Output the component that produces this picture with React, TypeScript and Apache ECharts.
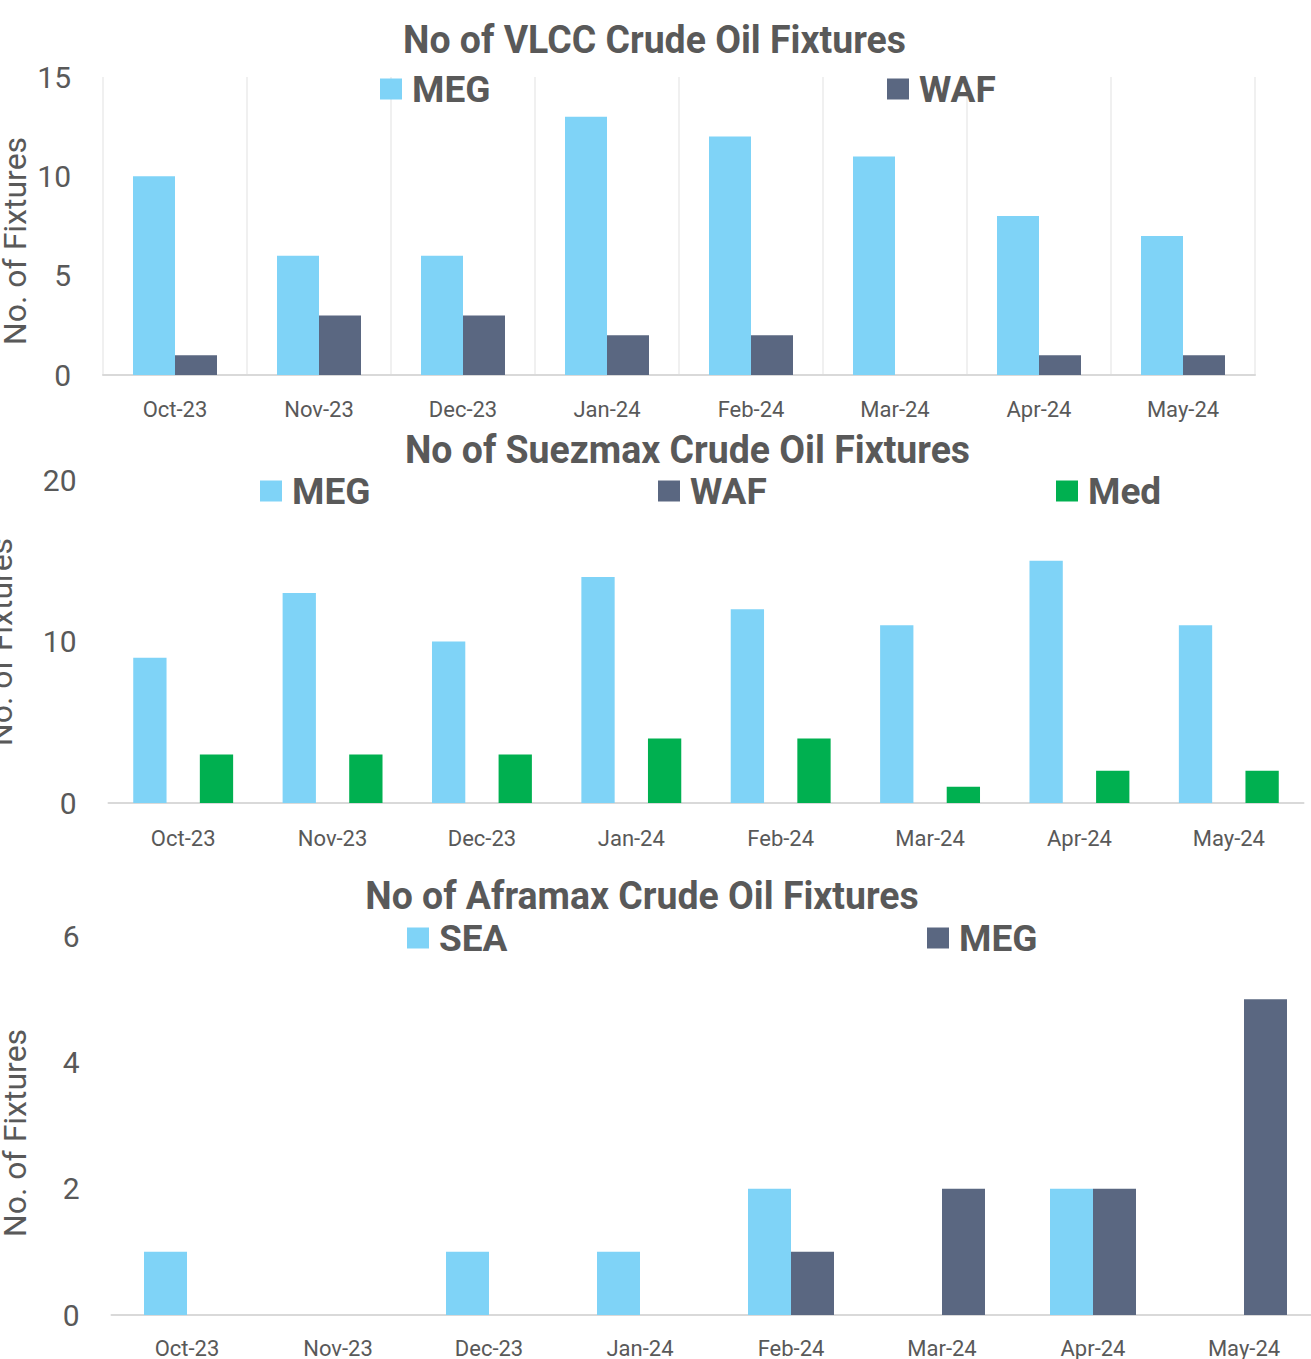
import React, { useEffect, useRef } from "react";
import * as echarts from "echarts";

const months = ["Oct-23", "Nov-23", "Dec-23", "Jan-24", "Feb-24", "Mar-24", "Apr-24", "May-24"];

const vlccMEG = [10, 6, 6, 13, 12, 11, 8, 7];
const vlccWAF = [1, 3, 3, 2, 2, 0, 1, 1];

const suezMEG = [9, 13, 10, 14, 12, 11, 15, 11];
const suezWAF = [0, 0, 0, 0, 0, 0, 0, 0];
const suezMed = [3, 3, 3, 4, 4, 1, 2, 2];

const afraSEA = [1, 0, 1, 1, 2, 0, 2, 0];
const afraMEG = [0, 0, 0, 0, 1, 2, 2, 5];

const titleVLCC = "No of VLCC Crude Oil Fixtures";
const titleSuez = "No of Suezmax Crude Oil Fixtures";
const titleAfra = "No of Aframax Crude Oil Fixtures";
const yName = "No. of Fixtures";

const LIGHT = "#7fd3f7";
const DARK = "#5a6781";
const GREEN = "#00b050";
const TEXT = "#595959";
const FONT = "Roboto, 'Noto Sans', sans-serif";

export default function App() {
  const ref = useRef<HTMLDivElement>(null);

  useEffect(() => {
    if (!ref.current) return;
    const chart = echarts.init(ref.current, undefined, { renderer: "svg" });

    const grids = [
      { left: 103, top: 77, width: 1152, height: 298 },
      { left: 108.5, top: 480, width: 1195, height: 323 },
      { left: 111.5, top: 936, width: 1208, height: 379 },
    ];
    const yCfg = [
      { max: 15, interval: 5 },
      { max: 20, interval: 10 },
      { max: 6, interval: 2 },
    ];
    const labelMargin = [23, 24, 22];

    const xAxis = grids.map((_, i) => ({
      type: "category",
      gridIndex: i,
      data: months,
      axisLine: { show: true, lineStyle: { color: "#d9d9d9", width: 2 } },
      axisTick: { show: false },
      axisLabel: { color: TEXT, fontSize: 22, fontFamily: FONT, margin: labelMargin[i], interval: 0 },
      splitLine: { show: i === 0, interval: 0, lineStyle: { color: "#ebebeb", width: 1.5 } },
    }));

    const yAxis = grids.map((_, i) => ({
      type: "value",
      gridIndex: i,
      min: 0,
      max: yCfg[i].max,
      interval: yCfg[i].interval,
      axisLine: { show: false },
      axisTick: { show: false },
      splitLine: { show: false },
      axisLabel: { color: TEXT, fontSize: 30, fontFamily: FONT, margin: 32 },
    }));

    const bar = (name: string, data: number[], color: string, idx: number, w: number) => ({
      name,
      type: "bar",
      xAxisIndex: idx,
      yAxisIndex: idx,
      data,
      barWidth: w,
      barGap: "0%",
      itemStyle: { color },
    });

    const series = [
      bar("VLCC|MEG", vlccMEG, LIGHT, 0, 42),
      bar("VLCC|WAF", vlccWAF, DARK, 0, 42),
      bar("Suez|MEG", suezMEG, LIGHT, 1, 33.3),
      bar("Suez|WAF", suezWAF, DARK, 1, 33.3),
      bar("Suez|Med", suezMed, GREEN, 1, 33.3),
      bar("Afra|SEA", afraSEA, LIGHT, 2, 43),
      bar("Afra|MEG", afraMEG, DARK, 2, 43),
    ];

    const leg = (name: string, left: number, cy: number) => ({
      left,
      top: cy - 21,
      padding: 0,
      icon: "rect",
      itemWidth: 22,
      itemHeight: 21,
      selectedMode: false,
      data: [name],
      formatter: (n: string) => n.split("|")[1],
      textStyle: {
        color: TEXT,
        fontSize: 37,
        fontWeight: "bold",
        fontFamily: FONT,
        lineHeight: 42,
        padding: [0, 0, 0, 5],
      },
    });

    const legend = [
      leg("VLCC|MEG", 380, 89),
      leg("VLCC|WAF", 887, 89),
      leg("Suez|MEG", 260, 491),
      leg("Suez|WAF", 658, 491),
      leg("Suez|Med", 1056, 491),
      leg("Afra|SEA", 407, 938),
      leg("Afra|MEG", 927, 938),
    ];

    const title = (text: string, cx: number, cy: number, sx: number) => ({
      type: "text",
      x: cx,
      y: cy,
      scaleX: sx,
      style: {
        text,
        fontSize: 38,
        fontWeight: "bold",
        fontFamily: FONT,
        fill: TEXT,
        align: "center",
        verticalAlign: "middle",
      },
    });

    const yTitle = (cx: number, cy: number) => ({
      type: "text",
      x: cx,
      y: cy,
      rotation: Math.PI / 2,
      style: {
        text: yName,
        fontSize: 32,
        fontFamily: FONT,
        fill: TEXT,
        align: "center",
        verticalAlign: "middle",
      },
    });

    chart.setOption({
      animation: false,
      backgroundColor: "#ffffff",
      grid: grids,
      xAxis,
      yAxis,
      series,
      legend,
      graphic: [
        title(titleVLCC, 654.5, 40, 0.985),
        title(titleSuez, 687.5, 450, 0.985),
        title(titleAfra, 642, 896, 0.985),
        yTitle(15, 241),
        yTitle(1, 642),
        yTitle(15, 1133),
      ],
    });

    return () => chart.dispose();
  }, []);

  return (
    <div style={{ position: "absolute", left: 0, top: 0, width: 1311, height: 1359, overflow: "hidden", background: "#fff" }}>
      <div ref={ref} style={{ width: 1340, height: 1359 }} />
    </div>
  );
}
